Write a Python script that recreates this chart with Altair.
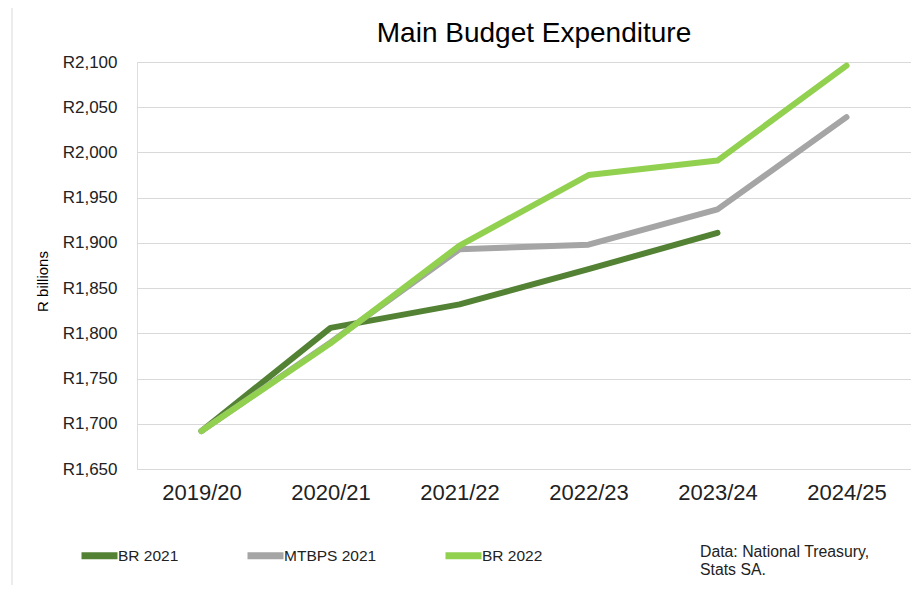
import altair as alt
import pandas as pd

years = ["2019/20", "2020/21", "2021/22", "2022/23", "2023/24", "2024/25"]
series_names = ["BR 2021", "MTBPS 2021", "BR 2022"]
br2021 = [1692, 1806, 1832, 1871, 1911, None]
mtbps2021 = [1692, 1790, 1893, 1898, 1937, 2039]
br2022 = [1692, 1789, 1897, 1975, 1991, 2096]
colors = ["#548235", "#A5A5A5", "#92D050"]
y_ticks = [1650, 1700, 1750, 1800, 1850, 1900, 1950, 2000, 2050, 2100]
source_lines = ["Data: National Treasury,", "Stats SA."]

rows = []
for name, vals in zip(series_names, [br2021, mtbps2021, br2022]):
    for i, (yr, v) in enumerate(zip(years, vals)):
        if v is not None:
            rows.append({"year": yr, "value": v, "series": name, "order": series_names.index(name)})
df = pd.DataFrame(rows)

FONT = "Liberation Sans"

lines = alt.Chart(df).mark_line(strokeWidth=6, strokeCap="round", strokeJoin="round").encode(
    x=alt.X("year:N", sort=years, scale=alt.Scale(type="point", padding=0.5),
            axis=alt.Axis(title=None, labelAngle=0, labelFontSize=22, labelPadding=13,
                          ticks=False, domain=False, labelColor="#222222", labelFont=FONT)),
    y=alt.Y("value:Q", scale=alt.Scale(domain=[1650, 2100], nice=False, zero=False),
            axis=alt.Axis(title="R billions", values=y_ticks,
                          labelExpr="'R' + format(datum.value, ',')",
                          labelFontSize=17, labelPadding=20, labelColor="#222222", labelFont=FONT,
                          ticks=False, domain=False, gridColor="#d9d9d9", gridWidth=1,
                          titleFontSize=15, titleFontWeight="normal", titleColor="#000000",
                          titleFont=FONT, titlePadding=12, titleY=219)),
    color=alt.Color("series:N", sort=series_names,
                    scale=alt.Scale(domain=series_names, range=colors),
                    legend=alt.Legend(title=None, orient="none", direction="horizontal",
                                      legendX=-59, legendY=472,
                                      symbolType="stroke", symbolSize=1296, symbolStrokeWidth=7,
                                      labelFontSize=15.5, labelFont=FONT, labelColor="#222222",
                                      labelOffset={"expr": "-3"}, columnPadding=54, symbolOpacity=1)),
    order=alt.Order("order:Q"),
    detail="series:N",
)

src = alt.Chart(pd.DataFrame({"t": [1]})).mark_text(
    align="left", baseline="top", fontSize=15.8, font=FONT, color="#222222", lineHeight=18
).encode(
    x=alt.value(563), y=alt.value(483), text=alt.value(source_lines)
)

frame = alt.Chart(pd.DataFrame({"t": [1]})).mark_rule(color="#d9d9d9", strokeWidth=1).encode(
    x=alt.value(-125), y=alt.value(-54), y2=alt.value(523)
)

chart = alt.layer(lines, src, frame).properties(
    width=774, height=407,
    title=alt.TitleParams("Main Budget Expenditure", fontSize=28, font=FONT,
                          fontWeight="normal", color="#000000", offset=7, anchor="middle",
                          dx=10, dy=47),
    padding={"left": 129, "top": 54, "right": 0, "bottom": 116},
    autosize=alt.AutoSizeParams(type="none"),
).configure_view(stroke=None).configure(background="#ffffff")

chart.save("out.html", embed_options={"renderer": "svg", "actions": False})
